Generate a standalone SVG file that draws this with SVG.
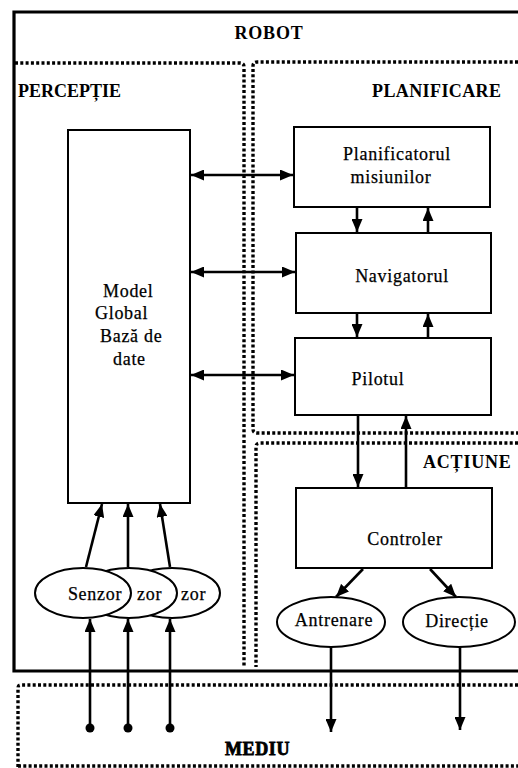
<svg xmlns="http://www.w3.org/2000/svg" width="518" height="768" viewBox="0 0 518 768">
  <defs>
    <marker id="ah" viewBox="0 0 13 11" refX="13" refY="5.5" markerWidth="13" markerHeight="11" markerUnits="userSpaceOnUse" orient="auto-start-reverse">
      <path d="M0,0 L13,5.5 L0,11 z" fill="#000"/>
    </marker>
    <style>
      .frame { fill: none; stroke: #000; stroke-width: 3.2; }
      .dot { fill: none; stroke: #000; stroke-width: 3.4; stroke-dasharray: 3 2.3; }
      .box { fill: #fff; stroke: #000; stroke-width: 2; }
      .lbl { font-family: "Liberation Serif", "Times New Roman", serif; font-size: 18px; letter-spacing: 0.7px; fill: #000; stroke: #000; stroke-width: 0.25; }
      .ttl { font-family: "Liberation Serif", "Times New Roman", serif; font-size: 18px; font-weight: bold; fill: #000; }
      .wire { fill: none; stroke: #000; stroke-width: 2.6; }
    </style>
  </defs>
  <rect width="518" height="768" fill="#fff"/>

  <!-- regions -->
  <g id="regions">
    <path class="frame" d="M520,12 H14 V671 H520"/>
    <path class="dot" d="M15,63 H240 Q244,63 244,67 V667"/>
    <path class="dot" d="M518,62 H257 Q253,62 253,66 V429 Q253,433 257,433 H518"/>
    <path class="dot" d="M518,443 H260 Q256,443 256,447 V667"/>
    <path class="dot" d="M518,685 H21 Q18,685 18,688 V768"/>
    <path class="dot" d="M18,766 H518"/>
    <text class="ttl" x="269" y="39" text-anchor="middle" font-size="19" letter-spacing="0.8">ROBOT</text>
    <text class="ttl" x="18" y="97">PERCEPȚIE</text>
    <text class="ttl" x="372" y="97" letter-spacing="0.4">PLANIFICARE</text>
    <text class="ttl" x="423" y="468" letter-spacing="0.8">ACȚIUNE</text>
    <text class="ttl" x="225" y="755" stroke="#000" stroke-width="0.8" letter-spacing="0.6">MEDIU</text>
  </g>

  <!-- nodes -->
  <g id="model">
    <rect class="box" x="68" y="130" width="122" height="373"/>
    <text class="lbl" x="103" y="297">Model</text>
    <text class="lbl" x="95" y="319">Global</text>
    <text class="lbl" x="100" y="342">Bază de</text>
    <text class="lbl" x="113" y="365">date</text>
  </g>
  <g id="planificator">
    <rect class="box" x="294" y="127" width="196" height="80"/>
    <text class="lbl" x="397" y="160" text-anchor="middle">Planificatorul</text>
    <text class="lbl" x="391" y="183" text-anchor="middle">misiunilor</text>
  </g>
  <g id="navigator">
    <rect class="box" x="296" y="233" width="195" height="80"/>
    <text class="lbl" x="402" y="282" text-anchor="middle">Navigatorul</text>
  </g>
  <g id="pilot">
    <rect class="box" x="295" y="338" width="196" height="77"/>
    <text class="lbl" x="378" y="385" text-anchor="middle">Pilotul</text>
  </g>
  <g id="controler">
    <rect class="box" x="296" y="488" width="196" height="80"/>
    <text class="lbl" x="405" y="545" text-anchor="middle">Controler</text>
  </g>
  <g id="antrenare">
    <ellipse class="box" cx="331" cy="622" rx="54" ry="25"/>
    <text class="lbl" x="334" y="626" text-anchor="middle">Antrenare</text>
  </g>
  <g id="directie">
    <ellipse class="box" cx="459" cy="622" rx="56" ry="25"/>
    <text class="lbl" x="457" y="627" text-anchor="middle">Direcție</text>
  </g>
  <!-- three stacked sensors, the front one drawn last -->
  <g id="senzor3">
    <ellipse class="box" cx="172" cy="593" rx="48" ry="25"/>
    <text class="lbl" x="181" y="600">zor</text>
  </g>
  <g id="senzor2">
    <ellipse class="box" cx="129" cy="593" rx="48" ry="25"/>
    <text class="lbl" x="137" y="600">zor</text>
  </g>
  <g id="senzor1">
    <ellipse class="box" cx="83" cy="593" rx="48" ry="25"/>
    <text class="lbl" x="95" y="600" text-anchor="middle">Senzor</text>
  </g>

  <!-- connectors -->
  <g id="connectors">
    <line class="wire" x1="191" y1="175" x2="293" y2="175" marker-start="url(#ah)" marker-end="url(#ah)"/>
    <line class="wire" x1="191" y1="272" x2="295" y2="272" marker-start="url(#ah)" marker-end="url(#ah)"/>
    <line class="wire" x1="191" y1="375" x2="294" y2="375" marker-start="url(#ah)" marker-end="url(#ah)"/>

    <line class="wire" x1="357" y1="208" x2="357" y2="232" marker-end="url(#ah)"/>
    <line class="wire" x1="428" y1="232" x2="428" y2="208" marker-end="url(#ah)"/>
    <line class="wire" x1="357" y1="314" x2="357" y2="337" marker-end="url(#ah)"/>
    <line class="wire" x1="428" y1="337" x2="428" y2="314" marker-end="url(#ah)"/>

    <line class="wire" x1="358" y1="416" x2="358" y2="487" marker-end="url(#ah)"/>
    <line class="wire" x1="406" y1="487" x2="406" y2="416" marker-end="url(#ah)"/>

    <line class="wire" x1="363" y1="569" x2="336" y2="597" marker-end="url(#ah)"/>
    <line class="wire" x1="430" y1="569" x2="456" y2="597" marker-end="url(#ah)"/>

    <line class="wire" x1="331" y1="647" x2="331" y2="732" marker-end="url(#ah)" stroke-width="3"/>
    <line class="wire" x1="460" y1="647" x2="460" y2="730" marker-end="url(#ah)" stroke-width="3"/>

    <line class="wire" x1="86" y1="567" x2="102" y2="504" marker-end="url(#ah)"/>
    <line class="wire" x1="128" y1="567" x2="128" y2="504" marker-end="url(#ah)"/>
    <line class="wire" x1="170" y1="567" x2="160" y2="504" marker-end="url(#ah)"/>

    <line class="wire" x1="90" y1="728" x2="90" y2="619" marker-end="url(#ah)" stroke-width="3"/>
    <line class="wire" x1="128" y1="728" x2="128" y2="619" marker-end="url(#ah)" stroke-width="3"/>
    <line class="wire" x1="170" y1="728" x2="170" y2="619" marker-end="url(#ah)" stroke-width="3"/>
    <circle cx="90" cy="728" r="4.5"/>
    <circle cx="128" cy="728" r="4.5"/>
    <circle cx="170" cy="728" r="4.5"/>
  </g>
</svg>
